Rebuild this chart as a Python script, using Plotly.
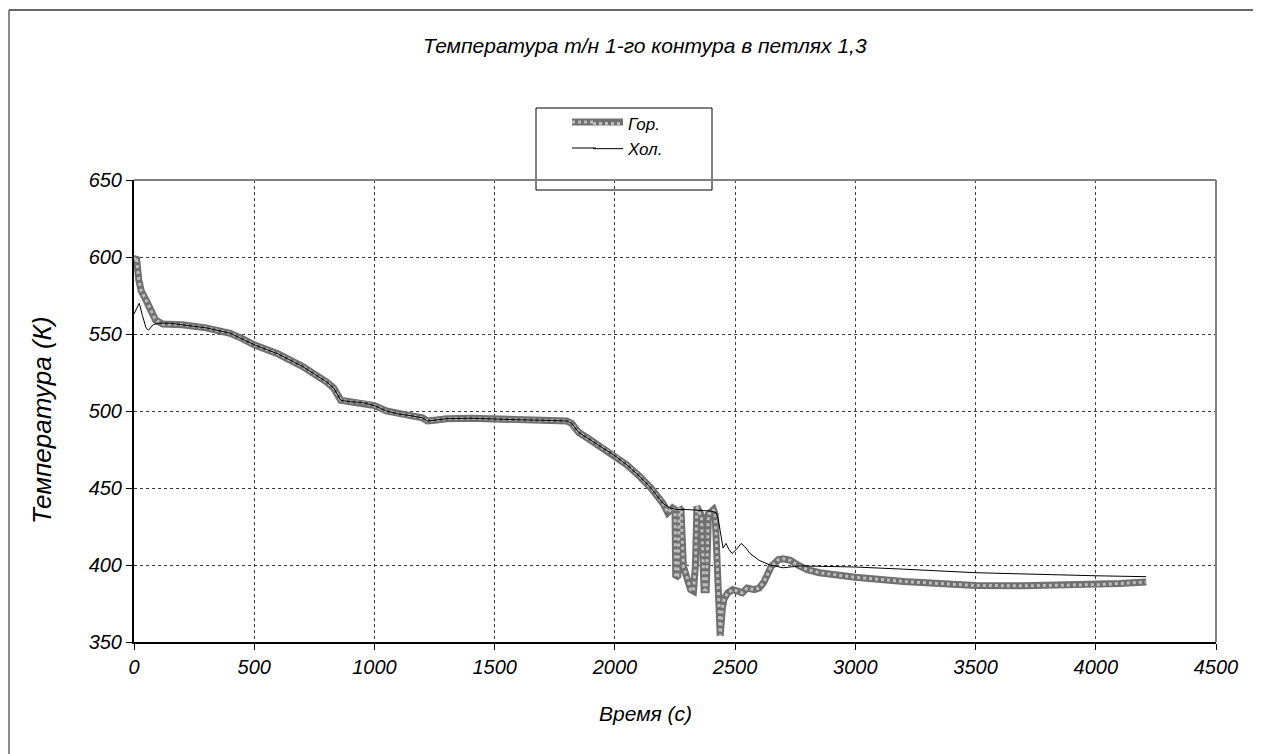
import plotly.graph_objects as go

# ---- data ----
time_hot = [0, 10, 20, 30, 50, 70, 90, 120, 150, 200, 300, 400, 450, 500, 600, 700, 800, 830, 860,
            900, 950, 1000, 1050, 1100, 1150, 1200, 1220, 1250, 1300, 1400, 1500, 1600, 1700, 1800,
            1820, 1850, 1900, 1950, 2000, 2050, 2100, 2150, 2200, 2220, 2240, 2250, 2253, 2262, 2268,
            2275, 2285, 2300, 2315, 2327, 2335, 2341, 2350, 2360, 2371, 2380, 2389, 2400, 2410, 2417,
            2428, 2438, 2447, 2454, 2470, 2490, 2510, 2530, 2550, 2580, 2600, 2620, 2650, 2680, 2700,
            2730, 2760, 2800, 2850, 2900, 3000, 3200, 3500, 3700, 4000, 4100, 4210]
temp_hot = [598, 600, 585, 578, 572, 565, 559, 556.5, 556.5, 556, 554, 550.5, 547, 543, 537, 529, 519, 515, 507,
            506, 505.5, 503.5, 500, 498, 497, 495.5, 493.5, 494, 495, 495.3, 494.7, 494.3, 494, 493.5,
            492, 486, 481, 476, 471, 465, 458, 450, 440, 434, 437, 436, 392, 393, 437,
            436, 399, 392, 384, 383, 400, 438, 434, 432, 384, 384, 433, 434, 436, 433,
            390, 354, 372, 378, 382, 384, 383, 382, 385, 384, 385, 389, 399, 403.5, 404,
            403, 400, 397, 395, 394, 392, 389.3, 386.7, 386.5, 387.2, 388, 389]

time_cold = [0, 10, 22, 35, 50, 60, 80, 100, 150, 200, 300, 400, 450, 500, 600, 700, 800, 830, 860,
             900, 950, 1000, 1050, 1100, 1150, 1200, 1220, 1250, 1300, 1400, 1500, 1600, 1700, 1800,
             1820, 1850, 1900, 1950, 2000, 2050, 2100, 2150, 2200, 2230, 2260, 2300, 2350, 2400, 2420,
             2430, 2440, 2450, 2462, 2475, 2487, 2505, 2525, 2540, 2562, 2600, 2645, 2700, 2770, 3000,
             3200, 3500, 4000, 4210]
temp_cold = [563, 566, 570, 562, 554, 552.5, 556, 557, 557, 556, 554, 550.5, 547, 543, 537, 529, 519, 515, 507,
             506, 505.5, 503.5, 500, 498, 497, 495.5, 493.5, 494, 495, 495.3, 494.7, 494.3, 494, 493.5,
             492, 486, 481, 476, 471, 465, 458, 450, 440, 437, 436, 436, 435.5, 435, 434,
             430, 420, 411, 414, 410, 407.5, 410, 414, 412, 407.5, 403, 400, 398.2, 399.4, 398.7,
             397.3, 395, 393, 392.4]

x_ticks = [0, 500, 1000, 1500, 2000, 2500, 3000, 3500, 4000, 4500]
y_ticks = [350, 400, 450, 500, 550, 600, 650]

title_text = "Температура т/н 1-го контура в петлях 1,3"
x_title = "Время (с)"
y_title = "Температура (К)"
names = ["Гор.", "Хол."]

FONT = "Liberation Sans, Arial, sans-serif"
HOT_BASE = "#707070"
HOT_DOT = "#bdbdbd"

fig = go.Figure()
fig.add_trace(go.Scatter(x=time_hot, y=temp_hot, mode="lines", showlegend=False,
                         line=dict(color=HOT_BASE, width=7), legendgroup="hot"))
fig.add_trace(go.Scatter(x=time_hot, y=temp_hot, mode="lines", name=names[0],
                         line=dict(color=HOT_DOT, width=3, dash="dot"), legendgroup="hot",
                         hoverinfo="skip"))
fig.add_trace(go.Scatter(x=time_cold, y=temp_cold, mode="lines", name=names[1],
                         line=dict(color="black", width=1)))

tick_font = dict(family=FONT, size=20, color="black", style="italic")

common = dict(showgrid=True, gridcolor="#3a3a3a", griddash="dot", gridwidth=1,
              showline=True, linecolor="black", linewidth=2, ticks="outside", ticklen=6,
              tickcolor="black", tickfont=tick_font, zeroline=False)
fig.update_xaxes(range=[0, 4500], tickvals=x_ticks, **common)
fig.update_yaxes(range=[350, 650], tickvals=y_ticks, **common)

W, H = 1261, 754
OFF = 8  # page body margin
L, R, T, B = 126, 53, 172, 120
pw, ph = W - L - R, H - T - B

def px(sx):
    return (sx - OFF - L) / pw

def py(sy):
    return (H - B - (sy - OFF)) / ph

shapes = [
    dict(type="line", xref="paper", yref="paper", x0=0, x1=1, y0=1, y1=1,
         line=dict(color="#808080", width=2)),
    dict(type="line", xref="paper", yref="paper", x0=1, x1=1, y0=0, y1=1,
         line=dict(color="#808080", width=2)),
    # outer chart frame (left and top visible)
    dict(type="line", xref="paper", yref="paper", x0=px(9), x1=px(9), y0=py(10), y1=py(770),
         line=dict(color="#666", width=1.5)),
    dict(type="line", xref="paper", yref="paper", x0=px(9), x1=px(1275), y0=py(10), y1=py(10),
         line=dict(color="#333", width=1.5)),
    # legend box
    dict(type="rect", xref="paper", yref="paper", x0=px(536), x1=px(712), y0=py(190), y1=py(108),
         line=dict(color="black", width=1), fillcolor="white", layer="below"),
    # longer legend sample lines
    dict(type="line", xref="paper", yref="paper", x0=px(572), x1=px(623), y0=py(122), y1=py(122),
         line=dict(color=HOT_BASE, width=7)),
    dict(type="line", xref="paper", yref="paper", x0=px(572), x1=px(596), y0=py(122), y1=py(122),
         line=dict(color=HOT_DOT, width=3, dash="dot")),
    dict(type="line", xref="paper", yref="paper", x0=px(572), x1=px(596), y0=py(148), y1=py(148),
         line=dict(color="black", width=1)),
]

annotations = [
    dict(text=title_text, xref="paper", yref="paper", x=px(645), y=py(45), showarrow=False,
         font=dict(family=FONT, size=21, color="black", style="italic"), xanchor="center", yanchor="middle"),
    dict(text=x_title, xref="paper", yref="paper", x=px(645), y=py(713), showarrow=False,
         font=dict(family=FONT, size=21, color="black", style="italic"), xanchor="center", yanchor="middle"),
    dict(text=y_title, xref="paper", yref="paper", x=px(42), y=py(420), showarrow=False, textangle=-90,
         font=dict(family=FONT, size=26, color="black", style="italic"), xanchor="center", yanchor="middle"),
]

fig.update_layout(
    width=W, height=H,
    margin=dict(l=L, r=R, t=T, b=B, pad=0),
    paper_bgcolor="white", plot_bgcolor="white",
    shapes=shapes, annotations=annotations,
    legend=dict(x=px(588), y=py(106), xanchor="left", yanchor="top",
                bgcolor="rgba(0,0,0,0)", borderwidth=0,
                font=dict(family=FONT, size=17, color="black", style="italic"),
                tracegroupgap=0),
    showlegend=True,
)

fig.write_html("out.html")
